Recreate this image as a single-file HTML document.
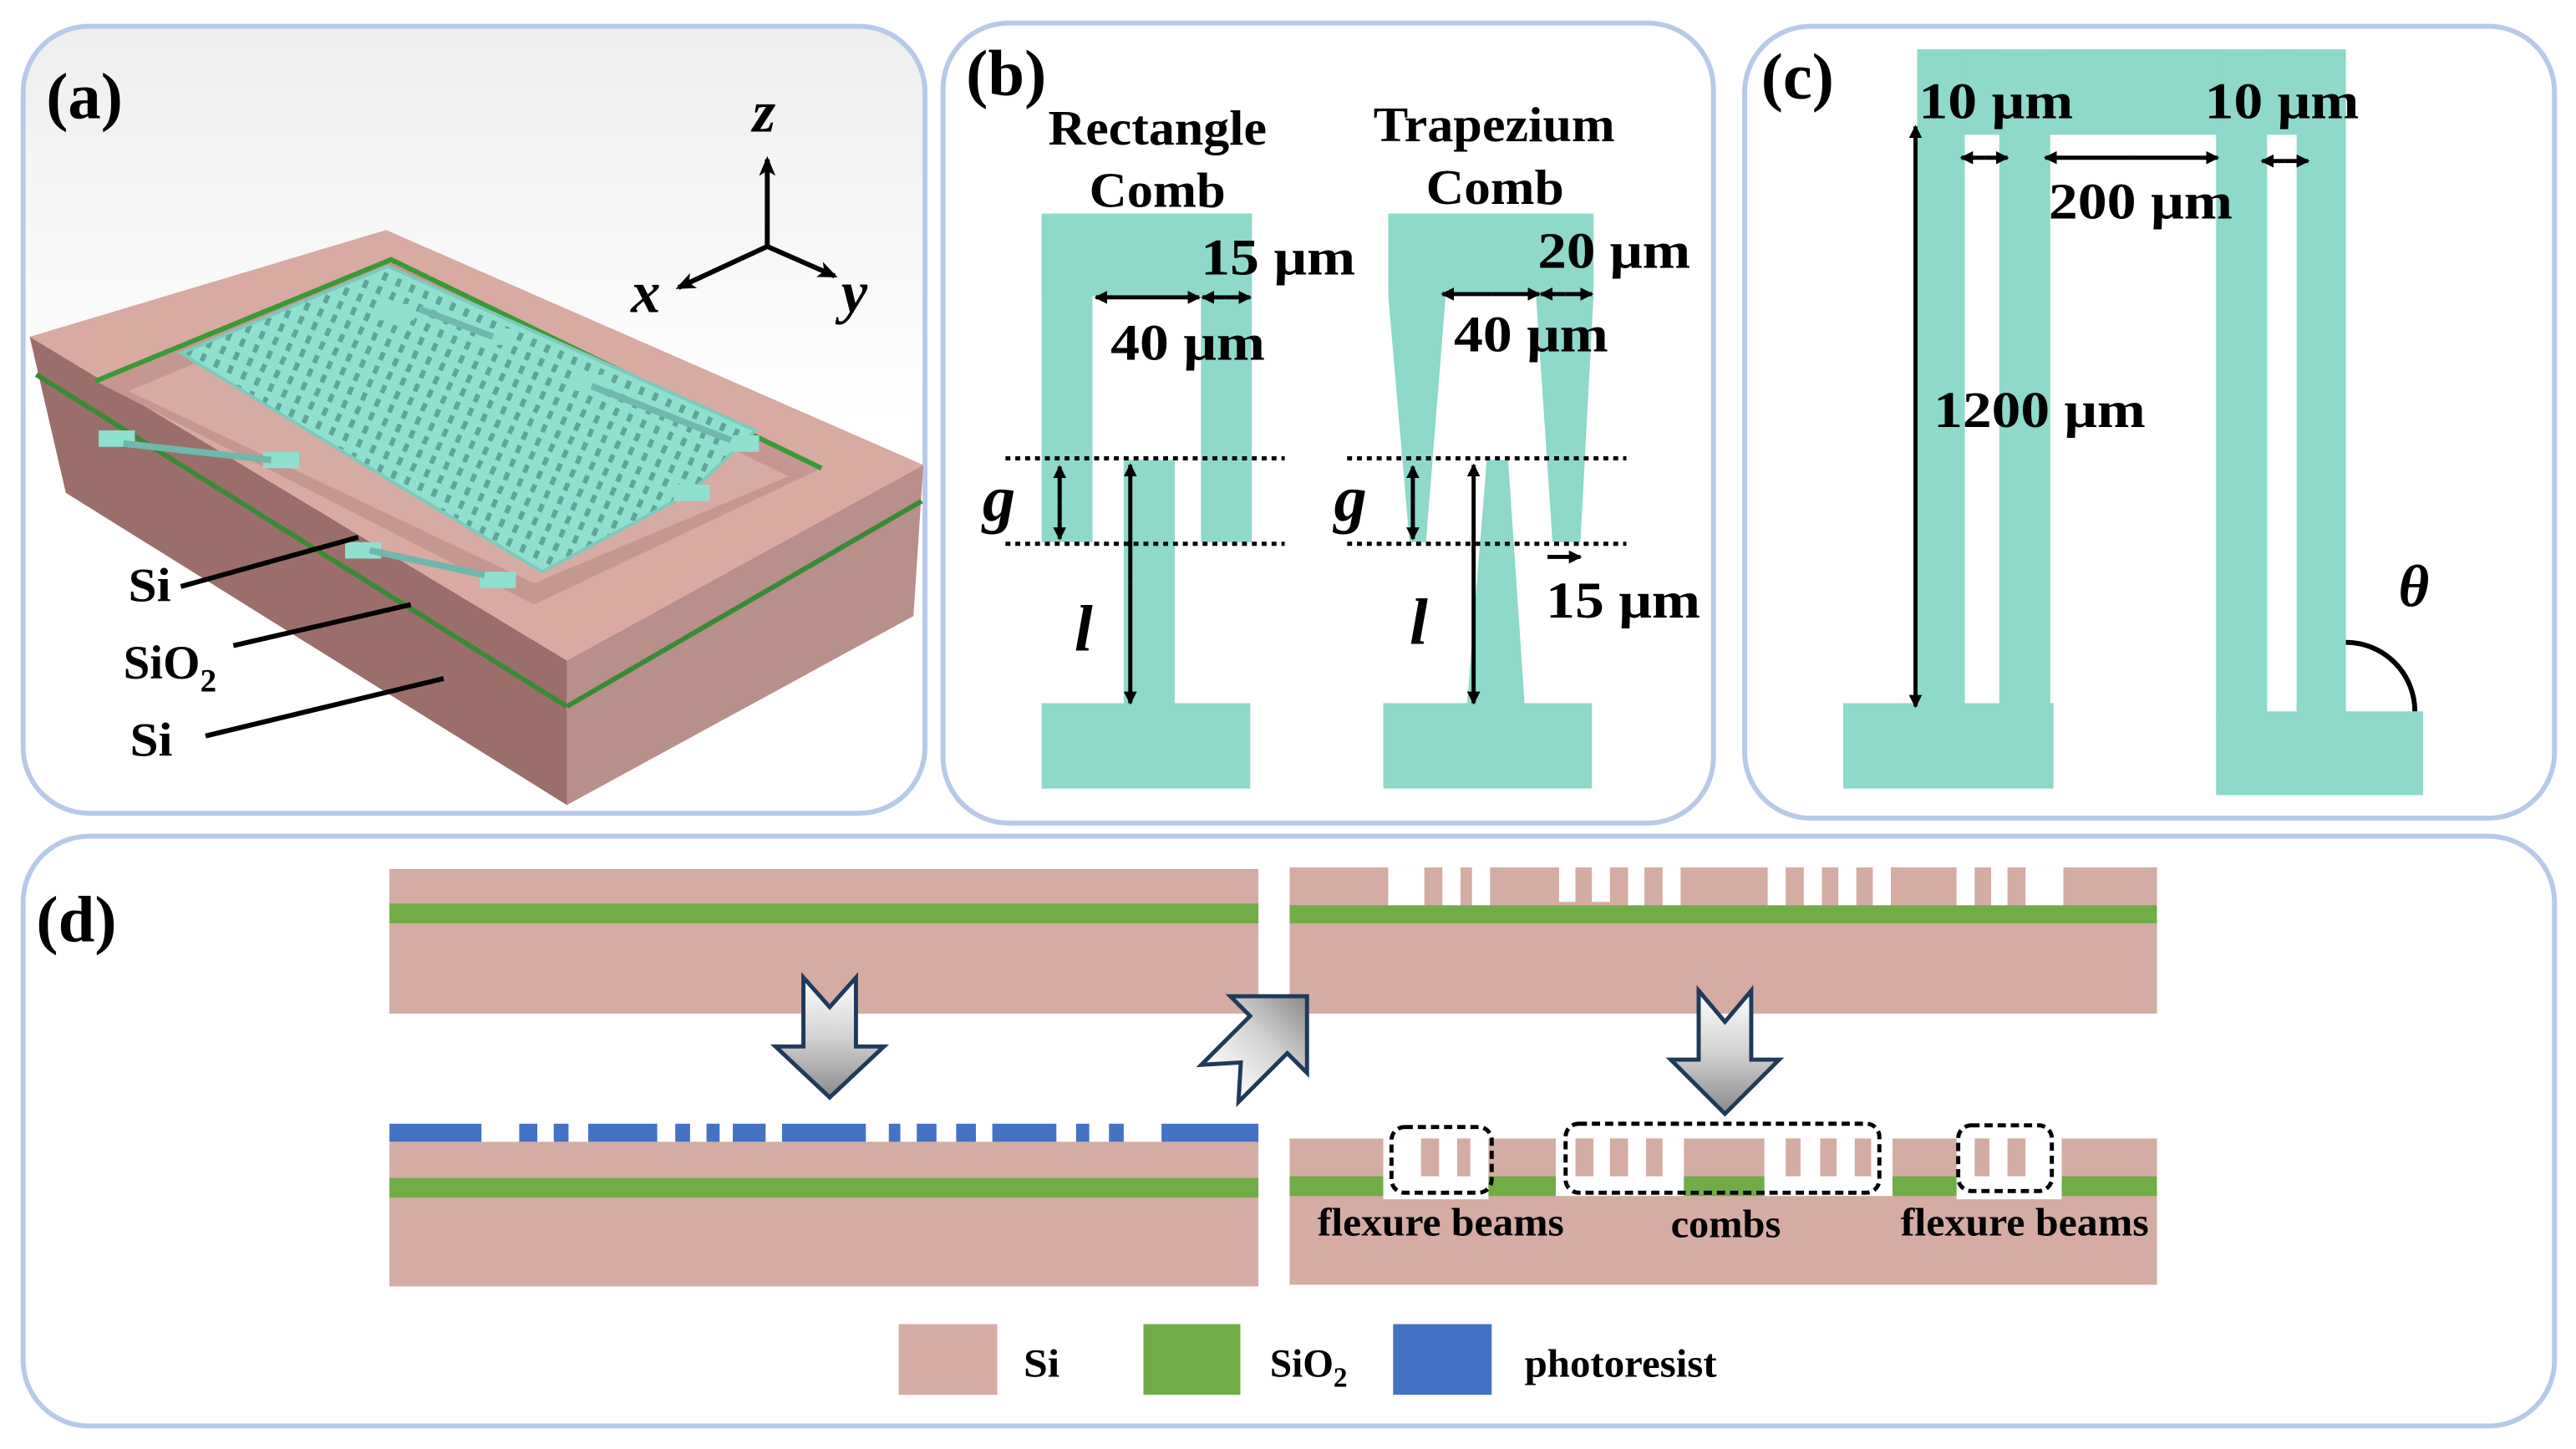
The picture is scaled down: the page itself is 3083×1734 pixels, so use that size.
<!DOCTYPE html>
<html><head><meta charset="utf-8"><style>
html,body{margin:0;padding:0;background:#fff}
svg{display:block}
text{font-family:"Liberation Serif",serif;font-weight:bold;fill:#000}
</style></head><body>
<svg width="3083" height="1734" viewBox="0 0 1568 882" xmlns="http://www.w3.org/2000/svg">
<defs>
<linearGradient id="bgA" x1="0" y1="0" x2="0" y2="1"><stop offset="0" stop-color="#eeeeee"/><stop offset="0.5" stop-color="#ffffff"/><stop offset="1" stop-color="#ffffff"/></linearGradient>
<linearGradient id="arr" x1="0" y1="0" x2="0" y2="1"><stop offset="0" stop-color="#ffffff"/><stop offset="0.5" stop-color="#d3d2d3"/><stop offset="1" stop-color="#8a8a8a"/></linearGradient>
<marker id="ah" markerWidth="8" markerHeight="8" refX="7" refY="4" orient="auto" markerUnits="userSpaceOnUse"><path d="M0,0 L8,4 L0,8 z" fill="#000"/></marker>
<marker id="ahs" markerWidth="12" markerHeight="10" refX="10" refY="5" orient="auto" markerUnits="userSpaceOnUse"><path d="M0,0 L12,5 L0,10 L3,5 z" fill="#000"/></marker>
<pattern id="grid" width="9" height="9" patternUnits="userSpaceOnUse" patternTransform="rotate(24)"><rect width="9" height="9" fill="#8fe0cf"/><rect x="2" y="2" width="3" height="5" fill="#5fa59a"/></pattern>
</defs>

<rect x="14" y="16" width="549" height="479" rx="40" fill="url(#bgA)" stroke="#b8c9e8" stroke-width="3"/>
<rect x="574" y="14" width="469" height="487" rx="40" fill="#fff" stroke="#b8c9e8" stroke-width="3"/>
<rect x="1062" y="16" width="493" height="482" rx="40" fill="#fff" stroke="#b8c9e8" stroke-width="3"/>
<rect x="14" y="509" width="1541" height="359" rx="40" fill="#fff" stroke="#b8c9e8" stroke-width="3"/>

<!-- panel a -->
<polygon points="18,205 345,402 345,490 40,300" fill="#9b6e6b"/>
<polygon points="345,402 562,283 556,375 345,490" fill="#b88f8b"/>
<path d="M22,228 L345,430" stroke="#3a8a35" stroke-width="3"/>
<path d="M345,430 L561,305" stroke="#3a8a35" stroke-width="3"/>
<polygon points="18,205 235,140 562,283 345,402" fill="#d8aaa2"/>
<polygon points="58,232 238,158 500,285 325,368" fill="#c69690"/>
<path d="M58,232 L238,158 500,285" stroke="#3a9a35" stroke-width="3" fill="none"/>
<polygon points="78,238 238,172 480,290 325,355" fill="#d6aba3"/>
<polygon points="110,215 236,162 460,262 420,300 330,348 250,300" fill="url(#grid)" stroke="#7ec9bb" stroke-width="2"/>
<rect x="60" y="262" width="22" height="10" fill="#8fe0cf"/>
<rect x="160" y="275" width="22" height="10" fill="#8fe0cf"/>
<rect x="230" y="185" width="22" height="10" fill="#8fe0cf"/>
<rect x="290" y="200" width="22" height="10" fill="#8fe0cf"/>
<rect x="350" y="228" width="22" height="10" fill="#8fe0cf"/>
<rect x="440" y="265" width="22" height="10" fill="#8fe0cf"/>
<rect x="210" y="330" width="22" height="10" fill="#8fe0cf"/>
<rect x="292" y="348" width="22" height="10" fill="#8fe0cf"/>
<rect x="410" y="295" width="22" height="10" fill="#8fe0cf"/>
<path d="M75,270 L165,280 M225,335 L295,350 M255,188 L300,205 M360,235 L445,268" stroke="#6fb8ab" stroke-width="4"/>
<text x="28" y="72" font-size="40">(a)</text>
<line x1="467" y1="150" x2="467" y2="97" stroke="#000" stroke-width="3" marker-end="url(#ahs)"/>
<line x1="467" y1="150" x2="413" y2="175" stroke="#000" stroke-width="3" marker-end="url(#ahs)"/>
<line x1="467" y1="150" x2="508" y2="168" stroke="#000" stroke-width="3" marker-end="url(#ahs)"/>
<text x="458" y="80" font-size="36" font-style="italic">z</text>
<text x="384" y="190" font-size="36" font-style="italic">x</text>
<text x="512" y="190" font-size="36" font-style="italic">y</text>
<text x="78" y="366" font-size="29" textLength="26" lengthAdjust="spacingAndGlyphs">Si</text>
<text x="75" y="413" font-size="29">SiO<tspan font-size="20" dy="8">2</tspan></text>
<text x="79" y="460" font-size="29" textLength="26" lengthAdjust="spacingAndGlyphs">Si</text>
<path d="M110,357 L218,327 M142,393 L250,368 M125,448 L270,413" stroke="#000" stroke-width="3"/>

<!-- panel b -->
<text x="588" y="58" font-size="40">(b)</text>
<g fill="#8ed9c9">
<rect x="634" y="130" width="128" height="50"/>
<rect x="634" y="130" width="31" height="200"/>
<rect x="731" y="130" width="31" height="200"/>
<rect x="684" y="280" width="31" height="150"/>
<rect x="634" y="428" width="127" height="52"/>
<rect x="845" y="130" width="125" height="50"/>
<polygon points="845,180 880,180 868,330 858,330"/>
<polygon points="935,180 970,180 962,330 945,330"/>
<polygon points="905,280 918,280 928,428 893,428"/>
<rect x="842" y="428" width="127" height="52"/>
</g>
<path d="M612,279 H782 M612,331 H782 M820,279 H990 M820,331 H990" stroke="#000" stroke-width="2.5" stroke-dasharray="3,3"/>
<g stroke="#000" stroke-width="2.5">
<line x1="645" y1="306" x2="645" y2="284" marker-end="url(#ah)"/><line x1="645" y1="306" x2="645" y2="328" marker-end="url(#ah)"/>
<line x1="688" y1="355" x2="688" y2="283" marker-end="url(#ah)"/><line x1="688" y1="355" x2="688" y2="428" marker-end="url(#ah)"/>
<line x1="698" y1="181" x2="667" y2="181" marker-end="url(#ah)"/><line x1="698" y1="181" x2="730" y2="181" marker-end="url(#ah)"/>
<line x1="746" y1="181" x2="732" y2="181" marker-end="url(#ah)"/><line x1="746" y1="181" x2="761" y2="181" marker-end="url(#ah)"/>
<line x1="897" y1="355" x2="897" y2="283" marker-end="url(#ah)"/><line x1="897" y1="355" x2="897" y2="428" marker-end="url(#ah)"/>
<line x1="860" y1="306" x2="860" y2="284" marker-end="url(#ah)"/><line x1="860" y1="306" x2="860" y2="328" marker-end="url(#ah)"/>
<line x1="908" y1="179" x2="878" y2="179" marker-end="url(#ah)"/><line x1="908" y1="179" x2="937" y2="179" marker-end="url(#ah)"/>
<line x1="953" y1="179" x2="938" y2="179" marker-end="url(#ah)"/><line x1="953" y1="179" x2="969" y2="179" marker-end="url(#ah)"/>
<line x1="942" y1="339" x2="962" y2="339" marker-end="url(#ah)"/>
</g>
<text x="638" y="88" font-size="30" textLength="133" lengthAdjust="spacingAndGlyphs">Rectangle</text>
<text x="663" y="126" font-size="30" textLength="83" lengthAdjust="spacingAndGlyphs">Comb</text>
<text x="836" y="86" font-size="30" textLength="147" lengthAdjust="spacingAndGlyphs">Trapezium</text>
<text x="868" y="124" font-size="30" textLength="84" lengthAdjust="spacingAndGlyphs">Comb</text>
<text x="731" y="167" font-size="31" textLength="94" lengthAdjust="spacingAndGlyphs">15 μm</text>
<text x="676" y="219" font-size="31" textLength="94" lengthAdjust="spacingAndGlyphs">40 μm</text>
<text x="936" y="163" font-size="31" textLength="93" lengthAdjust="spacingAndGlyphs">20 μm</text>
<text x="885" y="214" font-size="31" textLength="94" lengthAdjust="spacingAndGlyphs">40 μm</text>
<text x="941" y="376" font-size="31" textLength="94" lengthAdjust="spacingAndGlyphs">15 μm</text>
<text x="598" y="317" font-size="40" font-style="italic">g</text>
<text x="654" y="396" font-size="40" font-style="italic">l</text>
<text x="812" y="317" font-size="40" font-style="italic">g</text>
<text x="858" y="392" font-size="40" font-style="italic">l</text>

<!-- panel c -->
<text x="1072" y="60" font-size="40">(c)</text>
<g fill="#8ed9c9">
<rect x="1167" y="30" width="261" height="52"/>
<rect x="1167" y="30" width="29" height="400"/>
<rect x="1217" y="30" width="31" height="400"/>
<rect x="1122" y="428" width="128" height="52"/>
<rect x="1349" y="30" width="31" height="410"/>
<rect x="1398" y="30" width="30" height="410"/>
<rect x="1349" y="433" width="126" height="51"/>
</g>
<g stroke="#000" stroke-width="2.5">
<line x1="1208" y1="96" x2="1194" y2="96" marker-end="url(#ah)"/><line x1="1208" y1="96" x2="1222" y2="96" marker-end="url(#ah)"/>
<line x1="1297" y1="96" x2="1245" y2="96" marker-end="url(#ah)"/><line x1="1297" y1="96" x2="1350" y2="96" marker-end="url(#ah)"/>
<line x1="1391" y1="98" x2="1377" y2="98" marker-end="url(#ah)"/><line x1="1391" y1="98" x2="1405" y2="98" marker-end="url(#ah)"/>
<line x1="1166" y1="250" x2="1166" y2="77" marker-end="url(#ah)"/><line x1="1166" y1="250" x2="1166" y2="430" marker-end="url(#ah)"/>
</g>
<path d="M1428,391 A42,42 0 0 1 1470,433" fill="none" stroke="#000" stroke-width="3"/>
<text x="1168" y="72" font-size="31" textLength="94" lengthAdjust="spacingAndGlyphs">10 μm</text>
<text x="1342" y="72" font-size="31" textLength="94" lengthAdjust="spacingAndGlyphs">10 μm</text>
<text x="1247" y="133" font-size="31" textLength="112" lengthAdjust="spacingAndGlyphs">200 μm</text>
<text x="1177" y="260" font-size="31" textLength="129" lengthAdjust="spacingAndGlyphs">1200 μm</text>
<text x="1460" y="369" font-size="36" font-style="italic">θ</text>

<!-- panel d -->
<text x="22" y="573" font-size="40">(d)</text>
<rect x="237" y="529" width="529" height="88" fill="#d4aca4"/>
<rect x="237" y="550" width="529" height="12" fill="#70ad47"/>
<rect x="237" y="695" width="529" height="88" fill="#d4aca4"/>
<rect x="237" y="717" width="529" height="12" fill="#70ad47"/>
<g fill="#4472c4">
<rect x="237" y="684" width="56" height="11"/><rect x="316" y="684" width="11" height="11"/><rect x="337" y="684" width="9" height="11"/>
<rect x="358" y="684" width="42" height="11"/><rect x="411" y="684" width="9" height="11"/><rect x="430" y="684" width="8" height="11"/>
<rect x="446" y="684" width="20" height="11"/><rect x="476" y="684" width="51" height="11"/><rect x="541" y="684" width="7" height="11"/>
<rect x="558" y="684" width="12" height="11"/><rect x="582" y="684" width="12" height="11"/><rect x="604" y="684" width="39" height="11"/>
<rect x="655" y="684" width="8" height="11"/><rect x="675" y="684" width="9" height="11"/><rect x="707" y="684" width="59" height="11"/>
</g>
<rect x="785" y="528" width="528" height="89" fill="#d4aca4"/>
<rect x="785" y="551" width="528" height="11" fill="#70ad47"/>
<g fill="#fff">
<rect x="845" y="528" width="22" height="23"/><rect x="878" y="528" width="11" height="23"/><rect x="896" y="528" width="11" height="23"/>
<rect x="949" y="528" width="10" height="21"/><rect x="969" y="528" width="11" height="21"/>
<rect x="991" y="528" width="10" height="23"/><rect x="1012" y="528" width="11" height="23"/>
<rect x="1076" y="528" width="11" height="23"/><rect x="1098" y="528" width="11" height="23"/><rect x="1119" y="528" width="11" height="23"/><rect x="1140" y="528" width="11" height="23"/>
<rect x="1191" y="528" width="11" height="23"/><rect x="1212" y="528" width="10" height="23"/><rect x="1233" y="528" width="23" height="23"/>
</g>
<rect x="785" y="693" width="528" height="89" fill="#d4aca4"/>
<rect x="785" y="716" width="528" height="12" fill="#70ad47"/>
<g fill="#fff">
<rect x="842" y="693" width="64" height="37"/><rect x="947" y="693" width="78" height="35"/>
<rect x="1074" y="693" width="78" height="35"/><rect x="1191" y="693" width="64" height="37"/>
</g>
<g fill="#d4aca4">
<rect x="865" y="693" width="11" height="23"/><rect x="887" y="693" width="8" height="23"/>
<rect x="959" y="693" width="11" height="23"/><rect x="980" y="693" width="11" height="23"/><rect x="1002" y="693" width="10" height="23"/>
<rect x="1087" y="693" width="9" height="23"/><rect x="1108" y="693" width="10" height="23"/><rect x="1129" y="693" width="10" height="23"/>
<rect x="1202" y="693" width="9" height="23"/><rect x="1222" y="693" width="11" height="23"/>
</g>
<g fill="none" stroke="#000" stroke-width="2.5" stroke-dasharray="5,3">
<rect x="847" y="686" width="61" height="40" rx="8"/>
<rect x="953" y="684" width="191" height="42" rx="8"/>
<rect x="1192" y="685" width="57" height="40" rx="8"/>
</g>
<text x="802" y="752" font-size="24" textLength="150" lengthAdjust="spacingAndGlyphs">flexure beams</text>
<text x="1017" y="753" font-size="24" textLength="67" lengthAdjust="spacingAndGlyphs">combs</text>
<text x="1157" y="752" font-size="24" textLength="151" lengthAdjust="spacingAndGlyphs">flexure beams</text>
<g fill="url(#arr)" stroke="#1f3a5a" stroke-width="2.5" stroke-linejoin="miter">
<polygon points="489,595 505,613 521,595 521,637 538,637 505,668 472,637 489,637"/>
<polygon points="1034,603 1050,622 1066,603 1066,645 1083,645 1050,678 1017,645 1034,645"/>
<polygon transform="translate(768,634) rotate(-135)" points="-16,-36 0,-18 16,-36 16,6 33,6 0,39 -33,6 -16,6"/>
</g>
<rect x="547" y="806" width="60" height="43" fill="#d4aca4"/>
<text x="623" y="838" font-size="24" textLength="22" lengthAdjust="spacingAndGlyphs">Si</text>
<rect x="696" y="806" width="59" height="43" fill="#70ad47"/>
<text x="773" y="838" font-size="24">SiO<tspan font-size="17" dy="6">2</tspan></text>
<rect x="848" y="806" width="60" height="43" fill="#4472c4"/>
<text x="928" y="838" font-size="24" textLength="117" lengthAdjust="spacingAndGlyphs">photoresist</text>
</svg>
</body></html>
